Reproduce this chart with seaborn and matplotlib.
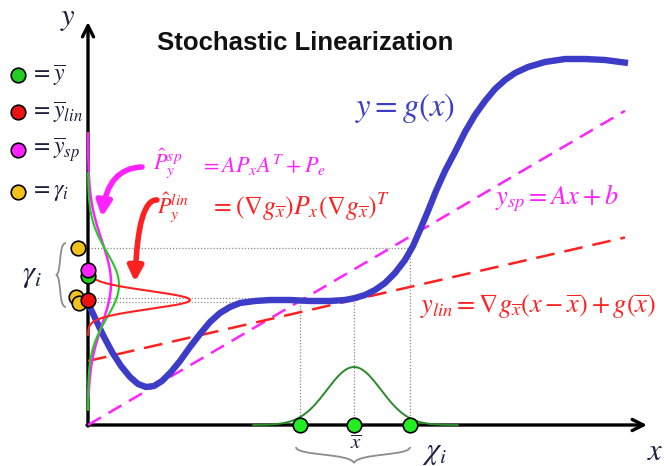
import numpy as np
import matplotlib
matplotlib.use("Agg")
import matplotlib.pyplot as plt
import seaborn as sns
from matplotlib.patches import FancyArrowPatch, PathPatch
from matplotlib.path import Path

# ---------------------------------------------------------------------------
# Diagram data (diagram units, origin at the corner of the x / y axes)
# ---------------------------------------------------------------------------
# nonlinear map y = g(x), sampled along the curve
g_x = [0, 7, 15, 24, 33, 42, 50, 58, 66, 74, 83, 92, 102, 112, 122, 132, 142,
       152, 167, 182, 202, 222, 242, 257, 267, 277, 287, 297, 307, 317, 325,
       332, 340, 348, 357, 367, 377, 387, 397, 407, 417, 427, 440, 457, 477,
       497, 517, 540]
g_y = [122, 107, 90, 73, 59, 48, 41, 38, 39, 44, 53, 64, 78, 91, 103, 112, 118,
       122, 124, 125, 125, 124, 124, 125, 127, 130, 135, 142, 152, 165, 179,
       195, 214, 234, 254, 273, 293, 310, 324, 336, 345, 352, 358, 363, 366,
       366, 365, 362]

# statistical linear regression  y_sp = A x + b
sp_A, sp_b = 0.585, 0.0
# first-order linearisation about x_bar
lin_slope, lin_offset = 0.23, 64.0
line_x_range = [0, 537]

# input density on the x axis and its sigma points
x_bar, x_std, x_peak = 266, 27, 58
chi = [212, 266, 322]
chi_img = [123, 127, 177]            # g(chi_i)

# output densities drawn against the y axis: (centre, spread, peak, y-range)
dens_true = (140, 33, 31, (15, 252))
dens_sp = (142, 42, 23, (28, 292))
dens_lin = (125, 9, 102, (90, 160))

# points marked on the y axis
gamma_x = [-10, -12, -9]
gamma_y = [177, 128, 122]
ybar_true = 149
ybar_sp = 155
ybar_lin = 125

legend_labels = [r"$=\overline{y}$", r"$=\overline{y}_{lin}$",
                 r"$=\overline{y}_{sp}$", r"$=\gamma_i$"]

# colours
BLUE = "#3c3cc8"
MAG = "#ff22ff"
RED = "#ff2020"
GREEN_D = "#2a8a2a"
GREEN = "#22cc22"
GREEN_DOT = "#22ee22"
GOLD = "#f2c21a"
INK = "#1e2040"
GREY = "#8a8a8a"

# ---------------------------------------------------------------------------
sns.set_theme(style="white")
plt.rcParams["font.family"] = ["Liberation Sans", "DejaVu Sans"]
plt.rcParams["mathtext.fontset"] = "stix"

fig = plt.figure(figsize=(6.64, 4.66), dpi=100)
ax = fig.add_axes([0, 0, 1, 1])
ax.set_xlim(-88, 576)
ax.set_ylim(-41, 425)
ax.axis("off")


def bell(centre, spread, peak, lo, hi, n=200):
    t = np.linspace(lo, hi, n)
    return t, peak * np.exp(-0.5 * ((t - centre) / spread) ** 2)


# axes with arrow heads
ax.annotate("", xy=(0, 403), xytext=(0, -1),
            arrowprops=dict(arrowstyle="->", lw=2.4, color="black",
                            mutation_scale=20, shrinkA=0, shrinkB=0), zorder=2)
ax.annotate("", xy=(559, 0), xytext=(-1, 0),
            arrowprops=dict(arrowstyle="->", lw=2.4, color="black",
                            mutation_scale=20, shrinkA=0, shrinkB=0), zorder=2)

# dotted guides from sigma points to their images
dot_kw = dict(color=GREY, lw=0.9, ls=(0, (1, 1.5)), zorder=1)
for cx, cy in zip(chi, chi_img):
    ax.plot([cx, cx], [0, cy], **dot_kw)
    ax.plot([0, cx], [cy, cy], **dot_kw)

# linearisations
lx = np.array(line_x_range, dtype=float)
sns.lineplot(x=lx, y=sp_A * lx + sp_b, ax=ax, color=MAG, lw=1.8,
             linestyle=(0, (6, 3.5)), sort=False, estimator=None, zorder=3)
sns.lineplot(x=lx, y=lin_offset + lin_slope * lx, ax=ax, color=RED, lw=1.8,
             linestyle=(0, (7.5, 4)), sort=False, estimator=None, zorder=3)

# nonlinear function
sns.lineplot(x=g_x, y=g_y, ax=ax, color=BLUE, lw=4.6, sort=False,
             estimator=None, zorder=4, solid_capstyle="butt")

# input density
tx, px = bell(x_bar, x_std, x_peak, 165, 370)
sns.lineplot(x=tx, y=px, ax=ax, color=GREEN_D, lw=1.4, sort=False,
             estimator=None, zorder=3)

# output densities along the y axis
for (c, s, p, (lo, hi)), col, lw in [(dens_sp, MAG, 1.8), (dens_true, GREEN, 1.5),
                                     (dens_lin, RED, 1.5)]:
    ty, py = bell(c, s, p, lo, hi)
    sns.lineplot(x=py, y=ty, ax=ax, color=col, lw=lw, sort=False,
                 estimator=None, zorder=5)

# marked points
dot = dict(s=110, edgecolor="black", linewidth=1.2, zorder=7, ax=ax, legend=False)
sns.scatterplot(x=chi, y=[0, 0, 0], color=GREEN_DOT, **dot)
sns.scatterplot(x=gamma_x, y=gamma_y, color=GOLD, **dot)
sns.scatterplot(x=[0], y=[ybar_true], color=GREEN, **dot)
sns.scatterplot(x=[0], y=[ybar_sp], color=MAG, **dot)
sns.scatterplot(x=[0], y=[ybar_lin], color="#ee1111", **dot)

# legend of markers
leg_y = [350, 313, 275, 233]
for yy, col, lab in zip(leg_y, [GREEN, "#ee1111", MAG, GOLD], legend_labels):
    ax.scatter([-70], [yy], s=110, color=col, edgecolor="black", lw=1.2, zorder=7)
    ax.text(-58, yy, lab, color=INK, fontsize=17, ha="left", va="center")

# curly braces
def brace(points, color="#8c8c8c"):
    verts = [points[0]]
    codes = [Path.MOVETO]
    for i in range(1, len(points), 3):
        verts += points[i:i + 3]
        codes += [Path.CURVE4] * 3
    ax.add_patch(PathPatch(Path(verts, codes), fc="none", ec=color, lw=1.3,
                           zorder=2))

brace([(-22, 182), (-30, 182), (-26, 152), (-32, 150),
       (-26, 148), (-30, 118), (-22, 118)])
brace([(208, -22), (208, -31), (262, -28), (266, -38),
       (270, -28), (322, -31), (322, -22)])

# text
ax.text(217, 382, "Stochastic Linearization", fontsize=18.5, fontweight="bold",
        ha="center", va="center", color="#111111")
ax.text(-20, 407, r"$y$", fontsize=22, color=INK, ha="center", va="center")
ax.text(567, -27, r"$x$", fontsize=22, color=INK, ha="center", va="center")
ax.text(-56, 150, r"$\gamma_i$", fontsize=22, color=INK, ha="center", va="center")
ax.text(268, -18, r"$\overline{x}$", fontsize=15, color=INK, ha="center", va="center")
ax.text(346, -27, r"$\chi_i$", fontsize=22, color=INK, ha="center", va="center")

ax.text(267, 317, r"$y=g(x)$", fontsize=23.5, color=BLUE, ha="left", va="center")
ax.text(407, 227, r"$y_{sp}=Ax+b$", fontsize=19, color=MAG, ha="left", va="center")
ax.text(332, 118, r"$y_{lin}=\nabla g_{\overline{x}}(x-\overline{x})+g(\overline{x})$",
        fontsize=19, color=RED, ha="left", va="center")
ax.text(65, 262, r"$\hat{P}_y^{sp}$", fontsize=16, color=MAG, ha="left", va="center")
ax.text(112, 260, r"$=AP_xA^T+P_e$", fontsize=16, color=MAG, ha="left", va="center")
ax.text(69, 218, r"$\hat{P}_y^{lin}$", fontsize=16, color=RED, ha="left", va="center")
ax.text(122, 218, r"$=(\nabla g_{\overline{x}})P_x(\nabla g_{\overline{x}})^T$",
        fontsize=18.5, color=RED, ha="left", va="center")

# curved pointers to the densities (tail, bend, tip)
for (p0, p1, p2), col in [(((54, 258), (20, 257), (14, 208)), MAG),
                          (((69, 225), (50, 226), (47, 143)), RED)]:
    pth = Path([p0, p1, p2], [Path.MOVETO, Path.CURVE3, Path.CURVE3])
    ax.add_patch(FancyArrowPatch(path=pth, arrowstyle="-|>", mutation_scale=22,
                                 lw=4, color=col, zorder=6))

fig.savefig("out.png", dpi=100)
